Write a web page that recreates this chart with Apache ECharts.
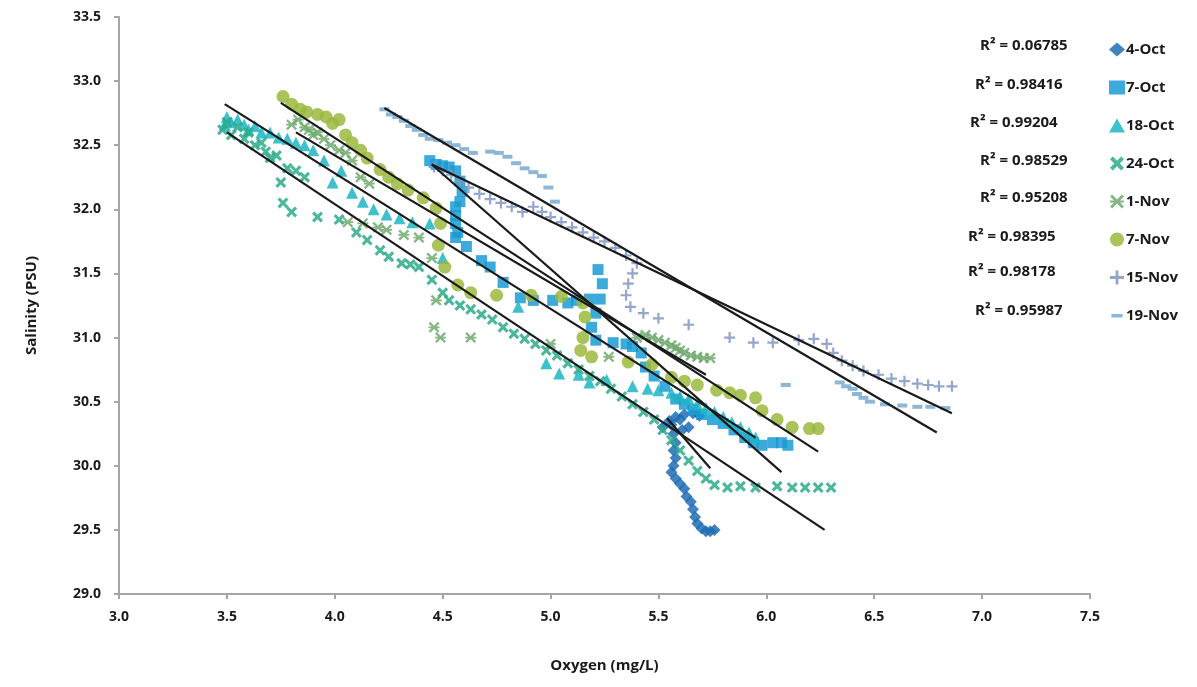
<!DOCTYPE html>
<html>
<head>
<meta charset="utf-8">
<script src="https://cdn.jsdelivr.net/npm/echarts@6/dist/echarts.min.js"></script>
<style>
  html, body { margin: 0; padding: 0; background: #fff; }
  #chart { width: 1197px; height: 687px; }
</style>
</head>
<body>
<div id="chart"></div>
<script>
// series names, legend order
var seriesNames = ['4-Oct', '7-Oct', '18-Oct', '24-Oct', '1-Nov', '7-Nov', '15-Nov', '19-Nov'];
var r2Labels = ['R² = 0.06785', 'R² = 0.98416', 'R² = 0.99204', 'R² = 0.98529',
                'R² = 0.95208', 'R² = 0.98395', 'R² = 0.98178', 'R² = 0.95987'];
var xTicks = [3.0, 3.5, 4.0, 4.5, 5.0, 5.5, 6.0, 6.5, 7.0, 7.5];
var yTicks = [29.0, 29.5, 30.0, 30.5, 31.0, 31.5, 32.0, 32.5, 33.0, 33.5];

// [oxygen, salinity]
var oct4 = [[5.52,30.30],[5.55,30.35],[5.58,30.38],[5.60,30.36],[5.62,30.40],[5.66,30.41],[5.69,30.39],
  [5.64,30.30],[5.61,30.28],[5.56,30.32],[5.57,30.25],[5.58,30.18],[5.57,30.12],[5.58,30.06],[5.57,30.00],
  [5.56,29.95],[5.58,29.90],[5.60,29.86],[5.62,29.82],[5.63,29.76],[5.65,29.72],[5.66,29.66],[5.67,29.60],
  [5.68,29.55],[5.70,29.51],[5.72,29.49],[5.74,29.49],[5.76,29.50]];
var oct7 = [[4.44,32.38],[4.47,32.35],[4.50,32.34],[4.53,32.33],[4.56,32.30],[4.58,32.22],[4.59,32.14],
  [4.58,32.06],[4.56,32.02],[4.56,31.95],[4.56,31.89],[4.57,31.82],[4.56,31.78],[4.61,31.71],[4.68,31.60],
  [4.72,31.55],[4.78,31.43],[4.86,31.31],[4.92,31.29],[5.01,31.29],[5.08,31.27],[5.12,31.29],[5.18,31.30],
  [5.22,31.53],[5.24,31.42],[5.23,31.30],[5.21,31.19],[5.19,31.08],[5.21,30.98],[5.29,30.96],[5.35,30.95],
  [5.38,30.93],[5.42,30.88],[5.44,30.77],[5.48,30.70],[5.53,30.62],[5.58,30.52],[5.62,30.48],[5.66,30.44],
  [5.70,30.40],[5.75,30.36],[5.80,30.33],[5.85,30.28],[5.90,30.22],[5.94,30.18],[5.98,30.16],[6.03,30.18],
  [6.07,30.18],[6.10,30.16]];
var oct18 = [[3.49,32.66],[3.50,32.72],[3.52,32.68],[3.55,32.70],[3.58,32.66],[3.60,32.62],[3.63,32.65],
  [3.66,32.60],[3.70,32.60],[3.74,32.56],[3.78,32.55],[3.82,32.52],[3.86,32.50],[3.90,32.46],[3.95,32.38],
  [3.99,32.21],[4.03,32.30],[4.08,32.13],[4.13,32.06],[4.18,32.00],[4.24,31.96],[4.30,31.93],[4.36,31.90],
  [4.44,31.89],[4.50,31.62],[4.85,31.24],[4.98,30.80],[5.04,30.72],[5.13,30.71],[5.18,30.65],[5.26,30.67],
  [5.38,30.62],[5.45,30.60],[5.50,30.59],[5.56,30.57],[5.60,30.54],[5.64,30.52],[5.68,30.48],[5.72,30.45],
  [5.76,30.42],[5.80,30.38],[5.84,30.34],[5.88,30.30],[5.92,30.26],[5.95,30.22]];
var oct24 = [[3.48,32.62],[3.50,32.68],[3.52,32.58],[3.55,32.64],[3.58,32.55],[3.60,32.60],[3.63,32.50],
  [3.66,32.52],[3.68,32.45],[3.70,32.40],[3.73,32.42],[3.75,32.21],[3.76,32.05],[3.78,32.32],[3.80,31.98],
  [3.82,32.30],[3.86,32.25],[3.92,31.94],[4.02,31.92],[4.10,31.82],[4.15,31.76],[4.21,31.68],[4.25,31.63],
  [4.31,31.58],[4.35,31.57],[4.39,31.55],[4.45,31.45],[4.50,31.35],[4.53,31.29],[4.58,31.25],[4.63,31.22],
  [4.68,31.18],[4.73,31.14],[4.78,31.08],[4.83,31.03],[4.88,30.99],[4.93,30.95],[4.98,30.90],[5.03,30.86],
  [5.08,30.80],[5.13,30.75],[5.18,30.70],[5.23,30.66],[5.28,30.60],[5.33,30.54],[5.38,30.48],[5.43,30.42],
  [5.48,30.36],[5.52,30.28],[5.56,30.20],[5.60,30.12],[5.64,30.04],[5.68,29.96],[5.72,29.90],[5.76,29.85],
  [5.82,29.83],[5.88,29.84],[5.95,29.83],[6.05,29.84],[6.12,29.83],[6.18,29.83],[6.24,29.83],[6.30,29.83]];
var nov1 = [[3.80,32.66],[3.83,32.70],[3.86,32.64],[3.88,32.62],[3.90,32.58],[3.92,32.60],[3.95,32.55],
  [3.98,32.50],[4.02,32.46],[4.05,32.44],[4.08,32.38],[4.12,32.25],[4.16,32.20],[4.06,31.90],[4.13,31.89],
  [4.20,31.86],[4.24,31.84],[4.32,31.80],[4.39,31.78],[4.45,31.62],[4.47,31.29],[4.46,31.08],[4.49,31.00],
  [4.63,31.00],[5.00,30.95],[5.27,30.85],[5.40,31.00],[5.44,31.02],[5.47,31.00],[5.50,30.98],[5.53,30.96],
  [5.56,30.94],[5.58,30.92],[5.60,30.90],[5.62,30.88],[5.65,30.86],[5.68,30.85],[5.71,30.84],[5.74,30.84]];
var nov7 = [[3.76,32.88],[3.80,32.82],[3.84,32.78],[3.87,32.76],[3.92,32.74],[3.96,32.72],[3.99,32.67],
  [4.02,32.70],[4.05,32.58],[4.08,32.52],[4.12,32.46],[4.15,32.40],[4.21,32.31],[4.25,32.25],[4.29,32.20],
  [4.34,32.15],[4.41,32.09],[4.47,32.01],[4.49,31.89],[4.48,31.72],[4.51,31.55],[4.57,31.41],[4.63,31.35],
  [4.75,31.33],[4.91,31.33],[5.05,31.32],[5.15,31.27],[5.16,31.16],[5.15,31.00],[5.14,30.90],[5.19,30.85],
  [5.36,30.81],[5.47,30.79],[5.56,30.69],[5.62,30.66],[5.68,30.63],[5.77,30.59],[5.83,30.57],[5.88,30.55],
  [5.95,30.53],[5.98,30.43],[6.05,30.36],[6.12,30.30],[6.20,30.29],[6.24,30.29]];
var nov15 = [[4.46,32.33],[4.50,32.30],[4.54,32.27],[4.58,32.22],[4.62,32.17],[4.67,32.12],[4.72,32.08],
  [4.77,32.05],[4.82,32.02],[4.87,31.98],[4.92,32.02],[4.96,31.98],[5.00,31.94],[5.05,31.90],[5.10,31.86],
  [5.15,31.82],[5.20,31.78],[5.25,31.75],[5.30,31.70],[5.35,31.64],[5.40,31.58],[5.38,31.50],[5.36,31.42],
  [5.35,31.33],[5.37,31.24],[5.43,31.19],[5.50,31.15],[5.64,31.10],[5.83,31.00],[5.94,30.96],[6.03,30.96],
  [6.15,30.98],[6.22,30.99],[6.28,30.95],[6.31,30.88],[6.35,30.82],[6.40,30.78],[6.45,30.74],[6.52,30.71],
  [6.58,30.68],[6.64,30.66],[6.70,30.64],[6.75,30.63],[6.80,30.62],[6.86,30.62]];
var nov19 = [[4.23,32.78],[4.26,32.74],[4.29,32.72],[4.32,32.69],[4.35,32.65],[4.38,32.62],[4.41,32.58],
  [4.44,32.55],[4.48,32.54],[4.52,32.52],[4.56,32.50],[4.60,32.47],[4.64,32.44],[4.72,32.45],[4.76,32.44],
  [4.80,32.41],[4.84,32.36],[4.88,32.32],[4.92,32.29],[4.96,32.26],[4.99,32.17],[5.02,32.06],[6.09,30.63],
  [6.34,30.65],[6.37,30.62],[6.40,30.60],[6.42,30.56],[6.45,30.53],[6.48,30.50],[6.55,30.48],[6.63,30.47],
  [6.70,30.46],[6.76,30.46],[6.83,30.45]];

// trend line end points [x0, y0, x1, y1]
var trendEnds = [
  [5.54, 30.37, 5.74, 29.98],
  [4.45, 32.35, 6.07, 29.95],
  [3.49, 32.82, 5.95, 30.22],
  [3.50, 32.60, 6.27, 29.50],
  [3.82, 32.60, 5.72, 30.71],
  [3.75, 32.83, 6.24, 30.11],
  [4.45, 32.35, 6.86, 30.41],
  [4.23, 32.79, 6.79, 30.26]
];

var seriesData = [oct4, oct7, oct18, oct24, nov1, nov7, nov15, nov19];
var colors = ['#1F6DB5', '#1A9BD3', '#1DB5C4', '#2BAA8A', '#6FAA6E', '#9BB83E', '#8196C3', '#7AAAD0'];
var symbols = [
  'diamond', 'rect', 'triangle',
  'path://M0,2 L2,0 L5,3 L8,0 L10,2 L7,5 L10,8 L8,10 L5,7 L2,10 L0,8 L3,5 Z',
  'path://M0,1.5 L1.5,0 L5,3.5 L8.5,0 L10,1.5 L6.5,5 L10,8.5 L8.5,10 L5,6.5 L1.5,10 L0,8.5 L3.5,5 Z M0,4.2 H10 V5.8 H0 Z',
  'circle',
  'path://M4,0 H6 V4 H10 V6 H6 V10 H4 V6 H0 V4 H4 Z',
  'rect'
];
var sizes = [12, 11, 12, 11, 11, 13, 11, [10, 4]];
// legend icon for the dash marker keeps a square box so it stays thin
var dashIcon = 'path://M1,4 H9 V6.5 H1 Z M0,0 L0.01,0 L0,0.01 Z M10,10 L9.99,10 L10,9.99 Z';

var font = '"Open Sans", Lato, sans-serif';

var series = [];
seriesNames.forEach(function (name, i) {
  series.push({
    name: name,
    type: 'scatter',
    data: seriesData[i],
    symbol: symbols[i],
    symbolSize: sizes[i],
    itemStyle: { color: colors[i], opacity: 0.85 },
    z: 2
  });
});
trendEnds.forEach(function (t, i) {
  series.push({
    name: 'trend ' + seriesNames[i],
    type: 'line',
    data: [[t[0], t[1]], [t[2], t[3]]],
    symbol: 'none',
    silent: true,
    lineStyle: { color: '#1a1a1a', width: 2.2 },
    z: 5
  });
});

var graphics = r2Labels.map(function (txt, i) {
  var lefts = [980, 975, 970, 980, 980, 968, 968, 975];
  var mids = [48, 87, 125, 163, 200, 239, 274, 313];
  return {
    type: 'text',
    left: lefts[i],
    top: mids[i] - 10,
    style: { text: txt, fill: '#1a1a1a', font: 'bold 15px ' + font }
  };
});

var legendData = seriesNames.map(function (n, i) {
  return i === 7 ? { name: n, icon: dashIcon } : { name: n };
});

var myChart = echarts.init(document.getElementById('chart'));
var option = {
  animation: false,
  grid: { left: 119, right: 107, top: 17, bottom: 93 },
  xAxis: {
    type: 'value',
    min: 3, max: 7.5, interval: 0.5,
    name: 'Oxygen (mg/L)',
    nameLocation: 'middle',
    nameGap: 64,
    nameTextStyle: { fontFamily: font, fontWeight: 'bold', fontSize: 15, color: '#1a1a1a' },
    axisLine: { onZero: false, lineStyle: { color: '#A6A6A6', width: 2 } },
    axisTick: { show: true, length: 5, lineStyle: { color: '#A6A6A6', width: 2 } },
    axisLabel: {
      margin: 16, fontFamily: font, fontWeight: 'bold', fontSize: 14, color: '#1a1a1a',
      formatter: function (v) { return v.toFixed(1); }
    },
    splitLine: { show: false }
  },
  yAxis: {
    type: 'value',
    min: 29, max: 33.5, interval: 0.5,
    name: 'Salinity (PSU)',
    nameLocation: 'middle',
    nameGap: 80,
    nameRotate: 90,
    nameTextStyle: { fontFamily: font, fontWeight: 'bold', fontSize: 15, color: '#1a1a1a' },
    axisLine: { show: true, onZero: false, lineStyle: { color: '#A6A6A6', width: 2 } },
    axisTick: { show: true, length: 5, lineStyle: { color: '#A6A6A6', width: 2 } },
    axisLabel: {
      margin: 18, fontFamily: font, fontWeight: 'bold', fontSize: 14, color: '#1a1a1a',
      formatter: function (v) { return v.toFixed(1); }
    },
    splitLine: { show: false }
  },
  legend: {
    data: legendData,
    orient: 'vertical',
    left: 1104,
    top: 37,
    itemGap: 23,
    itemWidth: 16,
    itemHeight: 14,
    textStyle: { fontFamily: font, fontWeight: 'bold', fontSize: 15, lineHeight: 14, color: '#1a1a1a', padding: [0, 0, 0, -4] }
  },
  graphic: graphics,
  series: series
};
myChart.setOption(option);
</script>
</body>
</html>
